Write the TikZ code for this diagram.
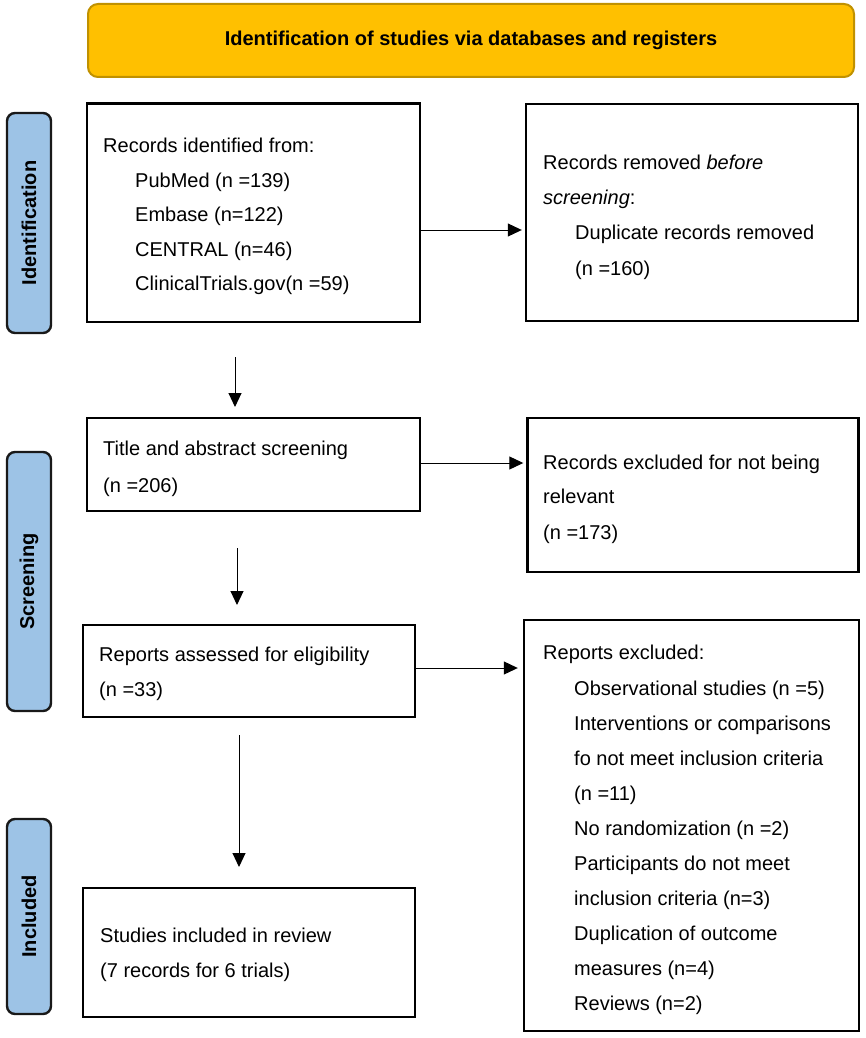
\documentclass[tikz,border=0pt]{standalone}
\usepackage{fontspec}
\setmainfont{Liberation Sans}
\usetikzlibrary{arrows.meta}
\definecolor{hdrfill}{HTML}{FFC000}
\definecolor{hdrdraw}{HTML}{C09100}
\definecolor{sidefill}{HTML}{9DC3E6}
\begin{document}
\begin{tikzpicture}[x=1pt,y=-1pt,
  box/.style={draw=black, line width=2.4pt, fill=white, inner sep=0pt},
  side/.style={draw=black!90, line width=2.4pt, fill=sidefill, rounded corners=8pt,
    inner sep=0pt, font=\bfseries\fontsize{20}{24}\selectfont},
  hdr/.style={draw=hdrdraw, line width=2pt, fill=hdrfill, rounded corners=10pt,
    inner sep=0pt, font=\bfseries\fontsize{20}{24}\selectfont},
  ln/.style={anchor=base west, inner sep=0pt, font=\fontsize{20}{24}\selectfont},
  arr/.style={line width=1pt, -{Triangle[length=14pt,width=13pt]}}]
\useasboundingbox (0,0) rectangle (865,1038);

% header
\node[hdr, minimum width=766pt, minimum height=73pt] (hdr) at (471,40.5)
  {Identification of studies via databases and registers};

% side labels
\node[side, rotate=90, minimum width=220pt, minimum height=44pt] (s1) at (29,223) {Identification};
\node[side, rotate=90, minimum width=259pt, minimum height=44pt] (s2) at (29,581.5) {Screening};
\node[side, rotate=90, minimum width=195pt, minimum height=44pt] (s3) at (29,916.5) {Included};

% boxes
\node[box, minimum width=333pt, minimum height=218.5pt] (b1) at (253.5,212.75) {};
\node[box, minimum width=332pt, minimum height=217pt] (b2) at (692,212.5) {};
\node[box, minimum width=333pt, minimum height=93pt] (b3) at (253.5,464.5) {};
\node[box, minimum width=331pt, minimum height=154pt] (b4) at (693,495) {};
\node[box, minimum width=332pt, minimum height=92pt] (b5) at (249,671) {};
\node[box, minimum width=335pt, minimum height=411pt] (b6) at (691.5,825.5) {};
\node[box, minimum width=332pt, minimum height=129pt] (b7) at (249,952.5) {};

% box 1 text
\node[ln] (t1a) at (103,152) {Records identified from:};
\node[ln] (t1b) at (135,187) {PubMed (n =139)};
\node[ln] (t1c) at (135,221) {Embase (n=122)};
\node[ln] (t1d) at (135,256) {CENTRAL (n=46)};
\node[ln] (t1e) at (135,290) {ClinicalTrials.gov(n =59)};

% box 2 text
\node[ln] (t2a) at (543,169) {Records removed \textit{before}};
\node[ln] (t2b) at (543,204) {\textit{screening}:};
\node[ln] (t2c) at (575,239) {Duplicate records removed};
\node[ln] (t2d) at (575,275) {(n =160)};

% box 3 text
\node[ln] (t3a) at (103,455) {Title and abstract screening};
\node[ln] (t3b) at (103,492) {(n =206)};

% box 4 text
\node[ln] (t4a) at (543,469) {Records excluded for not being};
\node[ln] (t4b) at (543,503) {relevant};
\node[ln] (t4c) at (543,539) {(n =173)};

% box 5 text
\node[ln] (t5a) at (99,661) {Reports assessed for eligibility};
\node[ln] (t5b) at (99,696) {(n =33)};

% box 6 text
\node[ln] (t6a) at (543,659) {Reports excluded:};
\node[ln] (t6b) at (574,695) {Observational studies (n =5)};
\node[ln] (t6c) at (574,730) {Interventions or comparisons};
\node[ln] (t6d) at (574,765) {fo not meet inclusion criteria};
\node[ln] (t6e) at (574,800) {(n =11)};
\node[ln] (t6f) at (574,835) {No randomization (n =2)};
\node[ln] (t6g) at (574,870) {Participants do not meet};
\node[ln] (t6h) at (574,905) {inclusion criteria (n=3)};
\node[ln] (t6i) at (574,940) {Duplication of outcome};
\node[ln] (t6j) at (574,975) {measures (n=4)};
\node[ln] (t6k) at (574,1010) {Reviews (n=2)};

% box 7 text
\node[ln] (t7a) at (100,942) {Studies included in review};
\node[ln] (t7b) at (100,977) {(7 records for 6 trials)};

% horizontal arrows
\coordinate (h1) at (0,230);
\coordinate (h2) at (0,463);
\coordinate (h3) at (0,668);
\draw[arr] (b1.east |- h1) -- ([xshift=-3pt]b2.west |- h1);
\draw[arr] (b3.east |- h2) -- ([xshift=-3pt]b4.west |- h2);
\draw[arr] (b5.east |- h3) -- ([xshift=-5pt]b6.west |- h3);

% vertical arrows
\coordinate (d1s) at (235,357);
\coordinate (d1e) at (235,407);
\coordinate (d2s) at (237,548);
\coordinate (d2e) at (237,605);
\coordinate (d3s) at (239,735);
\coordinate (d3e) at (239,867);
\draw[arr] (d1s) -- (d1e);
\draw[arr] (d2s) -- (d2e);
\draw[arr] (d3s) -- (d3e);
\end{tikzpicture}
\end{document}
